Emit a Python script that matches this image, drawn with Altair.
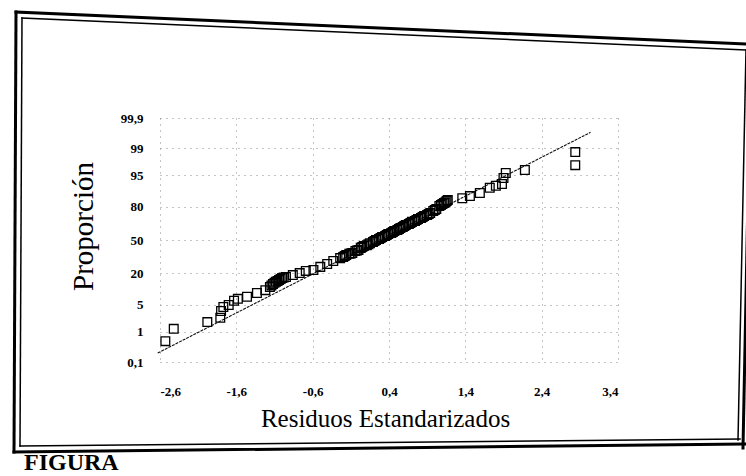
import altair as alt
import pandas as pd
from statistics import NormalDist

# Standardized residuals (sorted) and their cumulative proportion (%)
residuos = [-2.53, -2.42, -1.98, -1.81, -1.80, -1.77, -1.70, -1.63, -1.58, -1.46,
            -1.33, -1.22, -1.16, -1.14, -1.12, -1.10, -1.08, -1.06, -1.04, -1.02,
            -1.00, -0.98, -0.95, -0.86, -0.77, -0.69, -0.59, -0.50, -0.41, -0.33,
            -0.24, -0.20, -0.18, -0.16, -0.12, -0.10, -0.08, -0.04, -0.02, 0.00,
            0.03, 0.05, 0.07, 0.11, 0.13, 0.15, 0.19, 0.21, 0.23, 0.27,
            0.29, 0.31, 0.35, 0.37, 0.39, 0.43, 0.45, 0.47, 0.51, 0.53,
            0.55, 0.58, 0.60, 0.62, 0.66, 0.68, 0.70, 0.74, 0.76, 0.78,
            0.82, 0.84, 0.86, 0.90, 0.92, 0.94, 0.98, 1.00, 1.02, 1.06,
            1.08, 1.10, 1.12, 1.14, 1.155, 1.17, 1.36, 1.46, 1.59, 1.72,
            1.80, 1.88, 1.90, 1.93, 2.18, 2.84, 2.84]
proporcion = [0.52, 1.22, 1.88, 2.44, 3.6, 4.5, 5.0, 6.2, 6.8, 7.5,
              9.0, 10.2, 11.7, 12.5, 13.3, 13.9, 14.5, 15.0, 15.6, 16.2,
              16.8, 17.1, 17.4, 18.7, 20.1, 21.7, 22.4, 24.8, 27.1, 29.8,
              32.3, 33.4, 34.3, 35.2, 36.3, 36.7, 37.1, 39.0, 39.6, 40.1,
              42.1, 43.0, 44.0, 44.8, 45.8, 46.8, 48.0, 49.0, 50.0, 51.0,
              52.0, 53.0, 54.0, 55.0, 56.0, 57.1, 58.0, 59.0, 60.0, 61.0,
              61.9, 62.9, 63.8, 64.8, 65.7, 66.7, 67.7, 68.4, 69.3, 70.2,
              71.2, 72.0, 72.9, 73.6, 74.5, 75.3, 76.9, 77.6, 78.4, 80.5,
              81.2, 81.9, 82.5, 83.1, 83.8, 84.4, 85.5, 86.7, 88.3, 90.7,
              91.5, 92.2, 94.2, 95.5, 96.2, 97.1, 98.7]

# Fitted normal reference line (end points: residual, %)
recta_x = [-2.63, 3.04]
recta_p = [0.21, 99.68]

# Axis ticks
ticks_x = [-2.6, -1.6, -0.6, 0.4, 1.4, 2.4, 3.4]
ticks_p = [0.1, 1, 5, 20, 50, 80, 95, 99, 99.9]

FONT = "Liberation Serif"
W, H = 458, 244
PAD_L, PAD_T = 160, 118

nd = NormalDist()
ticks_z = [round(nd.inv_cdf(p / 100), 6) for p in ticks_p]

puntos = pd.DataFrame({"residuo": residuos, "prop": proporcion})
recta = pd.DataFrame({"residuo": recta_x, "prop": recta_p})

x_scale = alt.Scale(domain=[ticks_x[0], ticks_x[-1]], nice=False, zero=False)
y_scale = alt.Scale(domain=[ticks_z[0], ticks_z[-1]], nice=False, zero=False)

x_axis = alt.Axis(
    values=ticks_x, title="Residuos Estandarizados",
    labelExpr="replace(replace(format(datum.value, '.1f'), '.', ','), '\u2212', '-')",
    domain=False, ticks=False, grid=True, labelOverlap=False,
    gridDash=[1, 5], gridColor="#8a8a8a", gridWidth=1,
    labelFont=FONT, labelFontSize=13, labelFontWeight="bold", labelColor="black",
    labelPadding=23,
    titleFont=FONT, titleFontSize=25, titleFontWeight="normal", titleColor="black",
    titleX=225, titleY=64, titleBaseline="alphabetic", titleAnchor="middle",
)
y_axis = alt.Axis(
    values=ticks_z, title="Proporción",
    labelExpr="replace(format(cumulativeNormal(datum.value) * 100, '.3~r'), '.', ',')",
    domain=False, ticks=False, grid=True, labelOverlap=False, labelSeparation=0,
    gridDash=[1, 5], gridColor="#8a8a8a", gridWidth=1,
    labelFont=FONT, labelFontSize=13, labelFontWeight="bold", labelColor="black",
    labelPadding=17,
    titleFont=FONT, titleFontSize=29, titleFontWeight="normal", titleColor="black",
    titleX=-68, titleY=108, titleBaseline="alphabetic", titleAngle=-90,
)

pts = alt.Chart(puntos).transform_calculate(
    z="quantileNormal(datum.prop / 100)"
).mark_point(
    shape="square", filled=False, size=76, strokeWidth=1.3, color="black", opacity=1
).encode(
    x=alt.X("residuo:Q", scale=x_scale, axis=x_axis),
    y=alt.Y("z:Q", scale=y_scale, axis=y_axis),
)

linea = alt.Chart(recta).transform_calculate(
    z="quantileNormal(datum.prop / 100)"
).mark_line(color="#111111", strokeWidth=1.1, strokeDash=[3, 1]).encode(
    x=alt.X("residuo:Q", scale=x_scale, axis=x_axis),
    y=alt.Y("z:Q", scale=y_scale, axis=y_axis),
)

# Double-line page frame (pixel positions on the page)
marco = [
    (16, 12, 746, 44, 3.0), (22, 18, 746, 50, 1.5),      # top
    (16, 12, 14, 452, 3.0), (22, 18, 20, 446, 1.5),      # left
    (14, 452, 746, 444, 3.0), (20, 446, 740, 439, 1.5),  # bottom
    (743, 448, 751, 44, 3.0), (738, 440, 746, 50, 1.5),  # right
]
marco_df = pd.DataFrame(
    [{"x1": a - PAD_L, "y1": b - PAD_T, "x2": c - PAD_L, "y2": d - PAD_T, "w": w}
     for a, b, c, d, w in marco]
)
borde = alt.Chart(marco_df).mark_rule(color="black", strokeCap="square").encode(
    x=alt.X("x1:Q", scale=None),
    y=alt.Y("y1:Q", scale=None),
    x2="x2:Q",
    y2="y2:Q",
    strokeWidth=alt.StrokeWidth("w:Q", scale=None),
)

pie = alt.Chart(pd.DataFrame({"t": ["FIGURA"]})).mark_text(
    font=FONT, fontSize=24, fontWeight="bold", align="left", baseline="alphabetic",
    color="black",
).encode(
    text="t:N",
    x=alt.value(24 - PAD_L),
    y=alt.value(470 - PAD_T),
)

chart = alt.layer(borde, linea, pts, pie).properties(
    width=W, height=H,
    autosize=alt.AutoSizeParams(type="none"),
    padding={"left": PAD_L, "top": PAD_T, "right": 746 - PAD_L - W, "bottom": 476 - PAD_T - H},
    background="white",
).configure_view(strokeWidth=0).configure_axis(labelOverlap=False)

chart.save("out.html", embed_options={"renderer": "svg", "actions": False})
